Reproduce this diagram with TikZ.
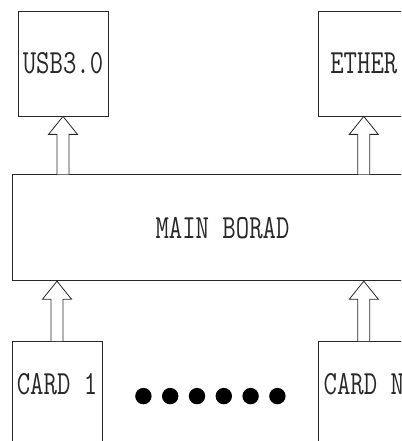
\documentclass[tikz,border=0pt]{standalone}
\usepackage{tikz}
\usetikzlibrary{positioning,calc}
\definecolor{ink}{RGB}{40,40,40}

% hollow upward block arrow: #1 base, #2 tip
\newcommand{\hollowup}[2]{%
  \draw[blk]($(#1)+(-6,0)$)--($(#2)+(-6,-18)$)--($(#2)+(-14.5,-18)$)--(#2)
    --($(#2)+(14.5,-18)$)--($(#2)+(6,-18)$)--($(#1)+(6,0)$);}
\newcommand{\lbl}[1]{\scalebox{1}[1.3]{\fontsize{26}{26}\ttfamily\selectfont #1}}

\begin{document}
\begin{tikzpicture}[x=1pt,y=1pt,
  box/.style={rectangle,draw=ink,line width=0.8pt,minimum width=90pt,minimum height=105pt,inner sep=0pt,text=ink},
  blk/.style={draw=ink,line width=0.8pt,fill=white}]
  \useasboundingbox (0,0) rectangle (401,441);
  \clip (0,0) rectangle (401,441);
  \node[box](usb) at (63,377.5){\lbl{USB3.0}};
  \node[box,right=210pt of usb](eth){\lbl{ETHER}};
  \node[box,minimum width=421pt,minimum height=106pt,below right=58pt and -6pt of usb.south west](main){\lbl{MAIN BORAD}};
  \node[box,below right=60pt and 0pt of main.south west](card1){};
  \node[box,right=216pt of card1](cardn){};
  \node[text=ink,inner sep=0pt] (c1txt) at ([yshift=-43pt]card1.north){\lbl{CARD 1}};
  \node[text=ink,inner sep=0pt] (cntxt) at ([yshift=-43pt]cardn.north){\lbl{CARD N}};
  % dots between the cards
  \foreach \i in {-2.5,-1.5,...,2.5}
    \fill[black] ($($(card1.east)!0.5!(cardn.west)$|-c1txt)+(26.8*\i,-2)$) circle (8.2);
  % arrows
  \coordinate (u0) at (usb.south |- main.north);
  \coordinate (e0) at (eth.south |- main.north);
  \coordinate (m1) at (card1.north |- main.south);
  \coordinate (mn) at (cardn.north |- main.south);
  \hollowup{u0}{usb.south}
  \hollowup{e0}{eth.south}
  \hollowup{card1.north}{m1}
  \hollowup{cardn.north}{mn}
\end{tikzpicture}
\end{document}
